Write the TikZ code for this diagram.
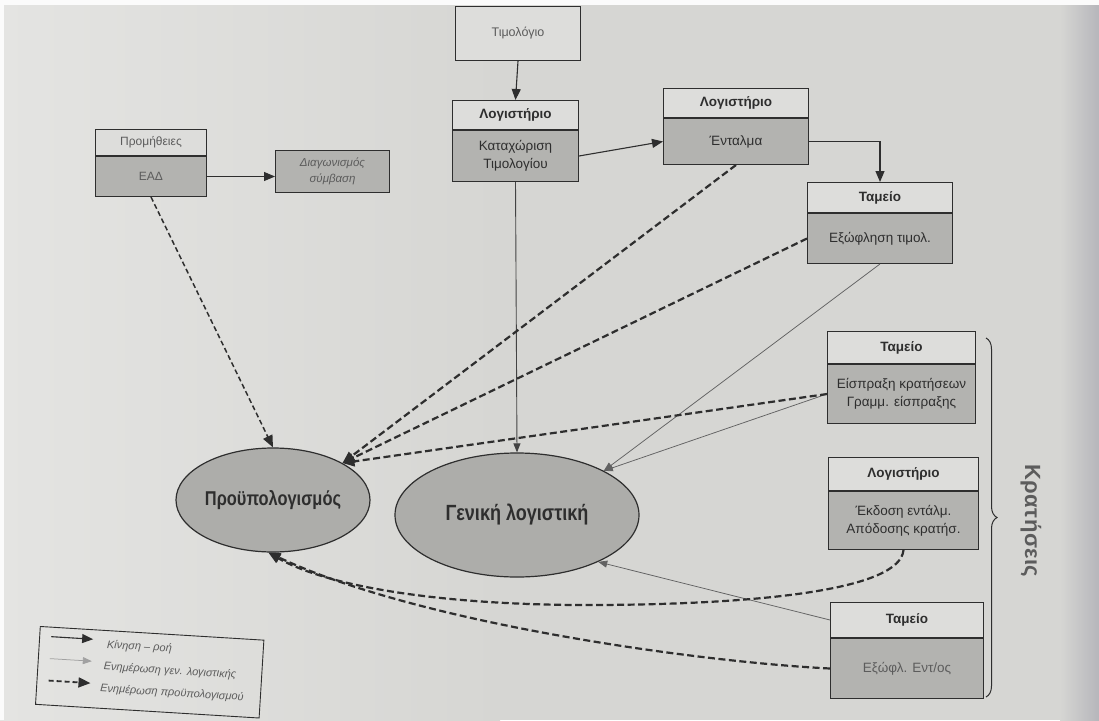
\documentclass[tikz,border=0pt]{standalone}
\usepackage{fontspec}
\setmainfont{Liberation Sans}
\newfontfamily\condfont{Liberation Sans}[FakeStretch=0.82]
\newfontfamily\sidefont{Liberation Sans}[LetterSpace=2]
\usetikzlibrary{arrows.meta,shapes.geometric,decorations.pathreplacing}

\definecolor{paper}{HTML}{D6D6D3}
\definecolor{paperhi}{HTML}{E4E4E2}
\definecolor{edge}{HTML}{B6B6BB}
\definecolor{ink}{HTML}{2E2E2E}
\definecolor{softink}{HTML}{5C5C5C}
\definecolor{shade}{HTML}{B3B3B0}
\definecolor{oval}{HTML}{ADADAA}
\definecolor{hdrfill}{HTML}{DDDDDB}

\tikzset{
  hdr/.style={draw=ink, fill=hdrfill, line width=1pt, anchor=north west, inner sep=0pt,
    font=\bfseries\fontsize{13.5}{15}\selectfont, text=ink},
  bdy/.style={draw=ink, fill=shade, line width=1pt, anchor=north west, inner sep=0pt,
    align=center, font=\fontsize{13.5}{18}\selectfont, text=ink},
  oval/.style={ellipse, draw=ink, fill=oval, line width=1.2pt, inner sep=0pt, text=ink},
  flow/.style={draw=ink, line width=1.1pt, -{Triangle[length=11pt,width=9pt]}},
  genline/.style={draw=ink!75, line width=0.75pt, -{Triangle[length=9pt,width=7pt]}},
  budline/.style={draw=ink, line width=2.2pt, dash pattern=on 7pt off 3.5pt,
    -{Triangle[length=12pt,width=10pt]}},
  legtext/.style={anchor=west, inner sep=0pt, text=softink,
    font=\itshape\fontsize{11}{12}\selectfont},
}

\begin{document}
\begin{tikzpicture}[x=1pt,y=-1pt]
\useasboundingbox (0,0) rectangle (1099,720);
% paper
\fill[paper] (0,0) rectangle (1099,720);
\shade[left color=paperhi, right color=paper] (0,0) rectangle (500,720);
\shade[left color=paper, right color=edge] (1060,0) rectangle (1099,720);
\fill[white!90!paper] (0,0) rectangle (1099,5);
\fill[white!90!paper] (0,0) rectangle (4,720);

% invoice
\node[draw=ink, fill=hdrfill, line width=1pt, anchor=north west, inner sep=0pt,
      minimum width=125pt, minimum height=54pt, text=softink,
      font=\fontsize{12.5}{15}\selectfont] (inv) at (455,6) {Τιμολόγιο};

% accounting: invoice registration
\node[hdr, minimum width=126pt, minimum height=29pt] (katH) at (452,100) {Λογιστήριο};
\node[bdy, minimum width=126pt, minimum height=51pt] (katB) at (katH.south west) {Καταχώριση\\Τιμολογίου};

% accounting: payment order
\node[hdr, minimum width=145pt, minimum height=29pt] (entH) at (663,88) {Λογιστήριο};
\node[bdy, minimum width=145pt, minimum height=46pt] (entB) at (entH.south west) {Ένταλμα};

% treasury: invoice payment
\node[hdr, minimum width=145pt, minimum height=30pt] (exoH) at (807,182) {Ταμείο};
\node[bdy, minimum width=145pt, minimum height=50pt] (exoB) at (exoH.south west) {Εξώφληση τιμολ.};

% procurement
\node[hdr, minimum width=111pt, minimum height=26pt, text=softink,
      font=\fontsize{12}{14}\selectfont] (promH) at (95,129) {Προμήθειες};
\node[bdy, minimum width=111pt, minimum height=40pt, text=softink,
      font=\fontsize{12}{14}\selectfont] (promB) at (promH.south west) {ΕΑΔ};
\node[bdy, minimum width=114pt, minimum height=42pt, text=softink,
      font=\itshape\fontsize{11.5}{16}\selectfont] (diag) at (275,150) {Διαγωνισμός\\σύμβαση};

% withholdings
\node[hdr, minimum width=148pt, minimum height=32pt] (eispH) at (827,331) {Ταμείο};
\node[bdy, minimum width=148pt, minimum height=59pt] (eispB) at (eispH.south west) {Είσπραξη κρατήσεων\\Γραμμ. είσπραξης};
\node[hdr, minimum width=150pt, minimum height=33pt] (ekdH) at (828,457) {Λογιστήριο};
\node[bdy, minimum width=150pt, minimum height=58pt] (ekdB) at (ekdH.south west) {Έκδοση εντάλμ.\\Απόδοσης κρατήσ.};
\node[hdr, minimum width=153pt, minimum height=35pt] (exeH) at (830,602) {Ταμείο};
\node[bdy, minimum width=153pt, minimum height=60pt, text=softink] (exeB) at (exeH.south west) {Εξώφλ. Εντ/ος};

% ledgers
\node[oval, minimum width=194pt, minimum height=104pt,
      font=\condfont\bfseries\fontsize{20}{24}\selectfont] (bud) at (273,500) {Προϋπολογισμός};
\node[oval, minimum width=244pt, minimum height=124pt,
      font=\condfont\bfseries\fontsize{22}{26}\selectfont] (gen) at (517,515) {Γενική λογιστική};
\coordinate (budNE) at (bud.28);
\coordinate (budS) at (bud.-95);
\coordinate (genNE) at (gen.27);
\coordinate (genSE) at (gen.-30);

% flow of documents
\draw[flow] (inv.south) -- (katH.north);
\draw[flow] (katB.east) -- (entB.west);
\draw[flow] (entB.east) -| (exoH.north);
\draw[flow] (promB.east) -- (promB.east -| diag.west);

% general ledger updates
\draw[genline, draw=ink!90, line width=0.9pt] (katB.south) -- (gen.north);
\draw[genline] (exoB.south) -- (genNE);
\draw[genline] (eispB.west) -- (genNE);
\draw[genline] (exeH.west) -- (genSE);

% budget updates
\draw[budline, line width=1.5pt, dash pattern=on 5pt off 3pt] (promB.south) -- (bud.north);
\draw[budline] (entB.south) -- (budNE);
\draw[budline] (exoB.west) -- (budNE);
\draw[budline] (eispB.west) -- (budNE);
\draw[budline] (ekdB.south) .. controls (900,590) and (760,604) .. (600,605)
                 .. controls (450,606) and (330,588) .. (budS);
\draw[budline] (exeB.west) .. controls (700,662) and (420,624) .. (budS);

% brace for withholdings
\draw[ink, line width=1pt, decorate, decoration={brace, amplitude=11pt}]
  (986,338) -- (986,697);
\node[rotate=-90, text=softink, font=\sidefont\bfseries\fontsize{22}{26}\selectfont]
  (krat) at (1031,521) {Κρατήσεις};

% legend
\begin{scope}[rotate around={-3.5:(40,624)}, transform shape]
  \node[draw=ink, line width=0.9pt, minimum width=224pt, minimum height=78pt,
        anchor=north west, inner sep=0pt] (legbox) at (40,626) {};
  \coordinate (l1a) at (52,636); \coordinate (l1b) at (94,636);
  \coordinate (l2a) at (52,658); \coordinate (l2b) at (94,658);
  \coordinate (l3a) at (52,680); \coordinate (l3b) at (94,680);
  \draw[flow] (l1a) -- (l1b);
  \draw[genline, draw=ink!45] (l2a) -- (l2b);
  \draw[budline, line width=1.8pt, dash pattern=on 5pt off 3pt] (l3a) -- (l3b);
  \node[legtext] (t1) at (108,641) {Κίνηση – ροή};
  \node[legtext] (t2) at (106,663) {Ενημέρωση γεν. λογιστικής};
  \node[legtext] (t3) at (104,685) {Ενημέρωση προϋπολογισμού};
\end{scope}
\end{tikzpicture}
\end{document}
